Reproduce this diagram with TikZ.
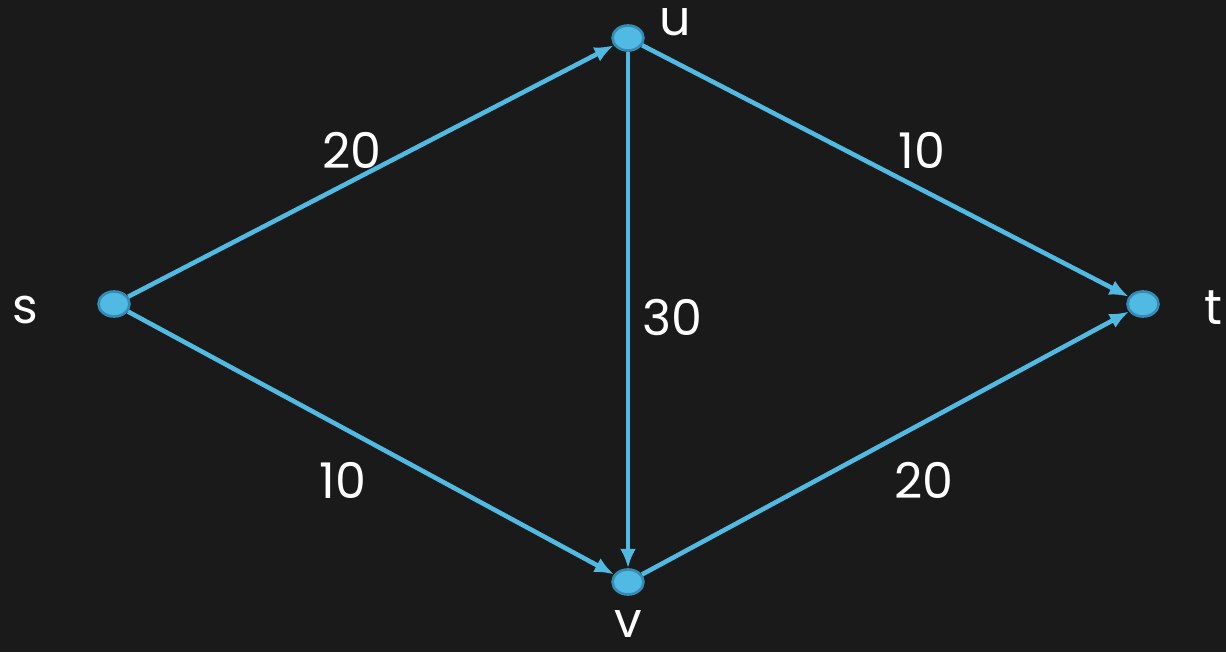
\documentclass[tikz,border=0pt]{standalone}
\usepackage{fontspec}
\setmainfont{Poppins}
\usepackage{xcolor}
\usepackage{tikz}
\usetikzlibrary{arrows.meta,shapes.geometric}

\definecolor{chalkbg}{RGB}{26,26,26}
\definecolor{netblue}{RGB}{80,186,226}
\definecolor{netrim}{RGB}{52,140,180}

\tikzset{
  vert/.style={ellipse,draw=netrim,fill=netblue,line width=1.5pt,minimum width=0.62cm,minimum height=0.5cm,inner sep=0pt},
  flow/.style={draw=netblue,line width=2.6pt,-{Latex[length=11pt,width=9pt]}},
  capnum/.style={text=white,font=\fontsize{28}{30}\selectfont},
  vname/.style={text=white,font=\fontsize{28}{30}\selectfont}
}

\begin{document}
\begin{tikzpicture}[x=0.02cm,y=-0.02cm]
\fill[chalkbg] (0,0) rectangle (1226,652);
\useasboundingbox (0,0) rectangle (1226,652);
% vertices
\node[vert] (s) at (114,304) {};
\node[vert] (u) at (628,38) {};
\node[vert] (v) at (628,582) {};
\node[vert] (t) at (1143,304) {};
\node[vname] (sname) at (25,310) {s};
\node[vname] (uname) at (675,22) {u};
\node[vname] (vname) at (628,624) {v};
\node[vname] (tname) at (1213,308) {t};
% edges
\draw[flow] (s) -- (u);
\draw[flow] (s) -- (v);
\draw[flow] (u) -- (v);
\draw[flow] (u) -- (t);
\draw[flow] (v) -- (t);
% capacities
\node[capnum] (csu) at (352,150) {20};
\node[capnum] (cut) at (922,150) {10};
\node[capnum] (cuv) at (672,317) {30};
\node[capnum] (csv) at (343,480) {10};
\node[capnum] (cvt) at (924,480) {20};
\end{tikzpicture}
\end{document}
